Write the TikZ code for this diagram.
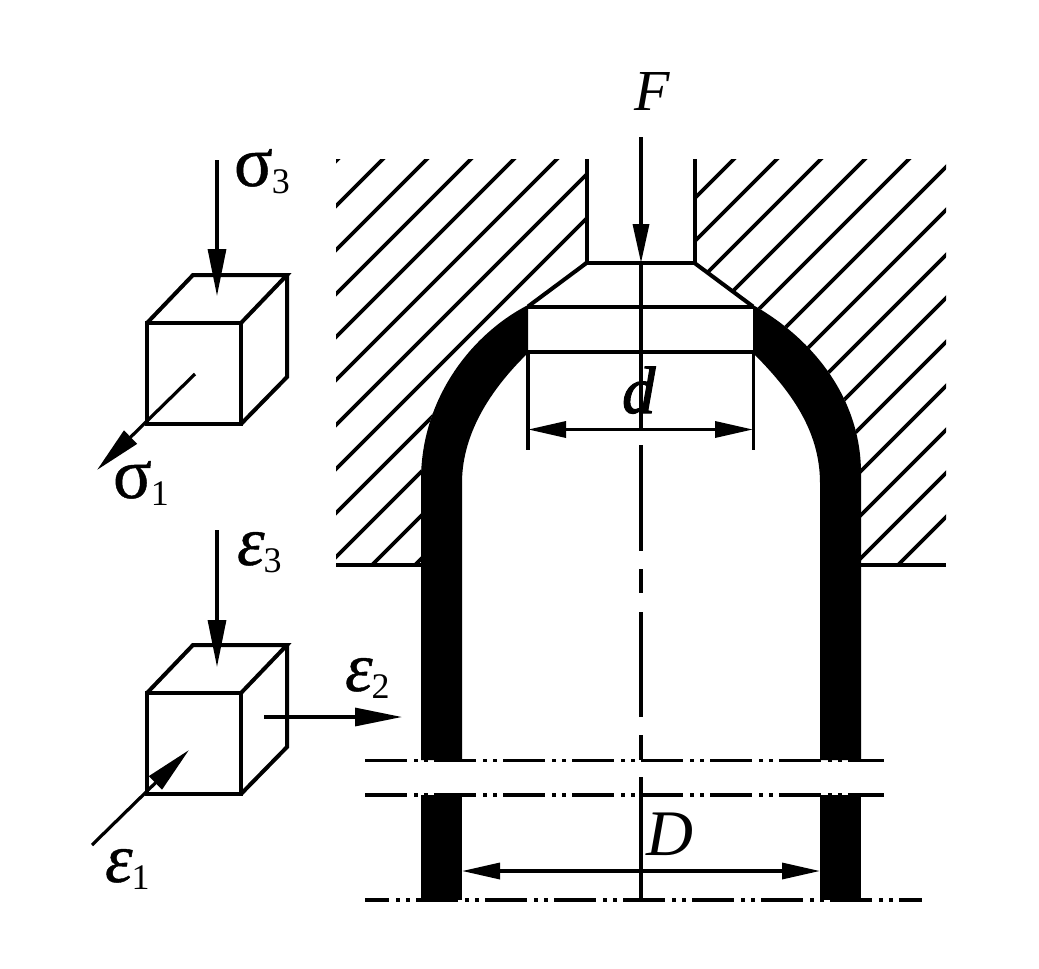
\documentclass[tikz,border=0pt]{standalone}
\usepackage{fontspec}
\setmainfont{Liberation Serif}
\newfontfamily\boldish[FakeBold=0.6]{Liberation Serif}
\newfontfamily\boldishit[FakeBold=0.6]{Liberation Serif Italic}
\newfontfamily\boldd[FakeBold=1.5]{Liberation Serif Italic}
\usetikzlibrary{arrows.meta}
\tikzset{
  mainline/.style={line width=4pt,black},
  hatchline/.style={line width=3.6pt,black},
  thinline/.style={line width=3.4pt,black},
  dimarrow/.style={line width=3.4pt,black,-{Triangle[length=39pt,width=16pt]}},
  dimboth/.style={line width=3.4pt,black,{Triangle[length=38pt,width=16pt]}-{Triangle[length=38pt,width=16pt]}},
  loadarrow/.style={line width=3.2pt,black,-{Triangle[length=47pt,width=18pt]}},
  phantomline/.style={line width=3.6pt,black,dash pattern=on 42pt off 7pt on 4pt off 6pt on 4pt off 6pt},
  wall/.style={fill=black,draw=none},
  lbl/.style={inner sep=0pt,outer sep=0pt,anchor=base west,black}
}
\newcommand{\capsym}[2]{{\fontsize{#1}{#1}\selectfont\itshape #2}}
\newcommand{\grk}[3]{{\fontsize{#1}{#1}\selectfont #2}\raisebox{-7pt}{\kern-1pt\fontsize{36}{36}\selectfont #3}}
\newcommand{\cube}[2]{%
  \draw[mainline,line join=miter] (147,#1+323) rectangle (241,#1+424);
  \draw[mainline,line join=miter] (147,#1+323) -- (193,#1+275) -- (287,#1+275) -- (241,#1+323);
  \draw[mainline,line join=miter] (287,#1+275) -- (287,#1+377) -- (241,#1+424);
}
\begin{document}
\begin{tikzpicture}[x=1pt,y=-1pt]
\useasboundingbox (0,0) rectangle (1039,969);
\fill[white] (0,0) rectangle (1039,969);

% hatching
\begin{scope}
\clip (336,159) -- (586,159) -- (586,263) -- (528,307)
  .. controls (470,335) and (421,400) .. (421,480) -- (421,565) -- (336,565) -- cycle;
\foreach \c in {497,542,586,630,673,716,761,805,849,893,937,980}
  \draw[hatchline] (\c-155,155) -- (\c-570,570);
\end{scope}
\begin{scope}
\clip (695,159) -- (946,159) -- (946,565) -- (861,565) -- (861,473)
  .. controls (861,400) and (815,340) .. (753,305) -- (695,263) -- cycle;
\foreach \c in {893,936,980,1024,1068,1113,1156,1201,1244,1288,1332,1376,1419,1463}
  \draw[hatchline] (\c-155,155) -- (\c-570,570);
\end{scope}

% flange lines
\draw[mainline] (336,565) -- (421,565);
\draw[mainline] (861,565) -- (946,565);

% walls
\fill[wall] (421,760) -- (421,480) .. controls (421,400) and (470,335) .. (528,305)
  -- (528,353) .. controls (495,385) and (462,430) .. (462,483) -- (462,760) -- cycle;
\fill[wall] (861,760) -- (861,473) .. controls (861,400) and (815,340) .. (753,305)
  -- (753,353) .. controls (790,390) and (820,430) .. (820,483) -- (820,760) -- cycle;
\fill[wall] (421,795) rectangle (462,900);
\fill[wall] (820,795) rectangle (861,900);

% punch
\draw[mainline,line join=miter] (586.5,159) -- (586.5,263) -- (694.5,263) -- (694.5,159);
\draw[mainline] (586.5,263) -- (528,306.5);
\draw[mainline] (694.5,263) -- (753,306.5);
\draw[mainline] (528,306.5) -- (753,306.5);
\draw[mainline] (528,352) -- (753,352);

% dimension extension lines
\draw[thinline] (528,352) -- (528,450);
\draw[thinline] (753.5,352) -- (753.5,450);

% centre line
\draw[thinline] (641,445) -- (641,551);
\draw[thinline] (641,569) -- (641,593);
\draw[thinline] (641,612) -- (641,717);
\draw[thinline] (641,735) -- (641,760);
\draw[thinline] (641,777) -- (641,899);

% F arrow with centre line
\coordinate (ftop) at (641,137);
\coordinate (ftip) at (641,263);
\draw[dimarrow] (ftop) -- (ftip);
\draw[thinline] (ftip) -- (641,428);

% phantom lines
\draw[phantomline] (365,760.5) -- (884,760.5);
\draw[phantomline] (365,795) -- (884,795);
\draw[phantomline,dash phase=18pt] (365,900) -- (922,900);

% dimensions
\coordinate (dl) at (528,429.5);
\coordinate (dr) at (753,429.5);
\draw[dimboth] (dl) -- (dr);
\coordinate (Dl) at (462,871);
\coordinate (Dr) at (820,871);
\draw[dimboth] (Dl) -- (Dr);

% cubes
\cube{0}{}
\cube{370}{}

% load arrows
\coordinate (s3a) at (217,160);
\coordinate (s3b) at (217,296);
\draw[loadarrow] (s3a) -- (s3b);
\coordinate (s1a) at (195,374);
\coordinate (s1b) at (97,470);
\draw[loadarrow] (s1a) -- (s1b);
\coordinate (e3a) at (217,530);
\coordinate (e3b) at (217,667);
\draw[loadarrow] (e3a) -- (e3b);
\coordinate (e1a) at (92,845);
\coordinate (e1b) at (189,750);
\draw[loadarrow] (e1a) -- (e1b);
\coordinate (e2a) at (264,717);
\coordinate (e2b) at (402,717);
\draw[loadarrow] (e2a) -- (e2b);

% labels
\node[lbl] (F) at (634,110) {\capsym{58}{F}};
\node[lbl] (d) at (622,413) {{\fontsize{67}{67}\selectfont\boldd d}};
\node[lbl] (D) at (646,855) {\capsym{65}{D}};
\node[lbl] (sigma3) at (234,186) {\grk{72}{\boldish σ}{3}};
\node[lbl] (sigma1) at (113,498) {\grk{72}{\boldish σ}{1}};
\node[lbl] (eps3) at (237,565) {\grk{70}{\boldishit ε}{3}};
\node[lbl] (eps2) at (345,691) {\grk{70}{\boldishit ε}{2}};
\node[lbl] (eps1) at (105,882) {\grk{70}{\boldishit ε}{1}};
\end{tikzpicture}
\end{document}
